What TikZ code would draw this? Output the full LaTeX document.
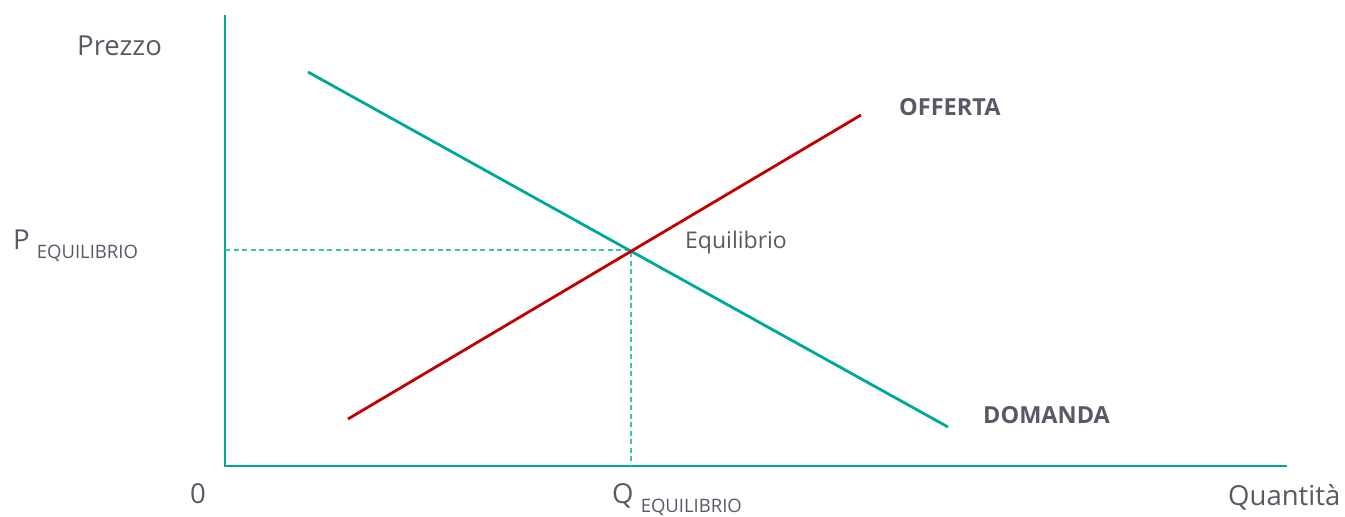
\documentclass[tikz,border=0pt]{standalone}
\usepackage{fontspec}
\setmainfont{Open Sans}
\usepackage{xcolor}
\usetikzlibrary{positioning}

\definecolor{axisteal}{HTML}{00A896}
\definecolor{dashteal}{HTML}{3CC3B4}
\definecolor{supplyred}{HTML}{C00000}
\definecolor{labelgray}{HTML}{595966}

\tikzset{
    axisline/.style={axisteal, line width=2.6pt},
    curveline/.style={line width=2.8pt},
    guideline/.style={dashteal, line width=1.1pt, dash pattern=on 5pt off 3.5pt},
    lbl/.style={labelgray, anchor=base west, inner sep=0pt, font=\fontsize{27.5}{30}\selectfont},
    curvelbl/.style={labelgray, anchor=base west, inner sep=0pt, font=\fontsize{23.5}{25}\selectfont\bfseries},
}
\newcommand{\eqsub}{\raisebox{-9pt}{\fontsize{18.5}{18.5}\selectfont EQUILIBRIO}}

\begin{document}
\begin{tikzpicture}[x=1pt, y=-1pt]
    \useasboundingbox (0,0) rectangle (1345,517);

    % Axes
    \coordinate (origin) at (225, 466);
    \coordinate (ytop) at (225, 15);
    \coordinate (xend) at (1287, 466);
    \draw[axisline] (ytop) -- (origin) -- (xend);

    % Curve end points
    \coordinate (D1) at (308, 72);
    \coordinate (D2) at (948, 427);
    \coordinate (S1) at (348, 419);
    \coordinate (S2) at (861, 115);

    % Equilibrium point and its projections
    \coordinate (eq) at (631, 250);
    \coordinate (peq) at (225, 250);
    \coordinate (qeq) at (631, 466);

    % Guide lines (dashed)
    \draw[guideline] (peq) -- (eq) -- (qeq);

    % Demand and supply
    \draw[curveline, axisteal] (D1) -- (D2);
    \draw[curveline, supplyred] (S1) -- (S2);

    % Axis labels
    \node[lbl] (prezzo) at (77, 55) {Prezzo};
    \node[lbl] (quantita) at (1228, 505) {Quantità};
    \node[lbl] (zero) at (190, 503) {0};
    \node[lbl] (plabel) at (13, 249) {P \eqsub};
    \node[lbl] (qlabel) at (612, 503) {Q \eqsub};

    % Curve labels
    \node[lbl, font=\fontsize{23}{25}\selectfont] (eqlabel) at (685, 248) {Equilibrio};
    \node[curvelbl] (offerta) at (899, 115) {OFFERTA};
    \node[curvelbl] (domanda) at (983, 423) {DOMANDA};

\end{tikzpicture}
\end{document}
